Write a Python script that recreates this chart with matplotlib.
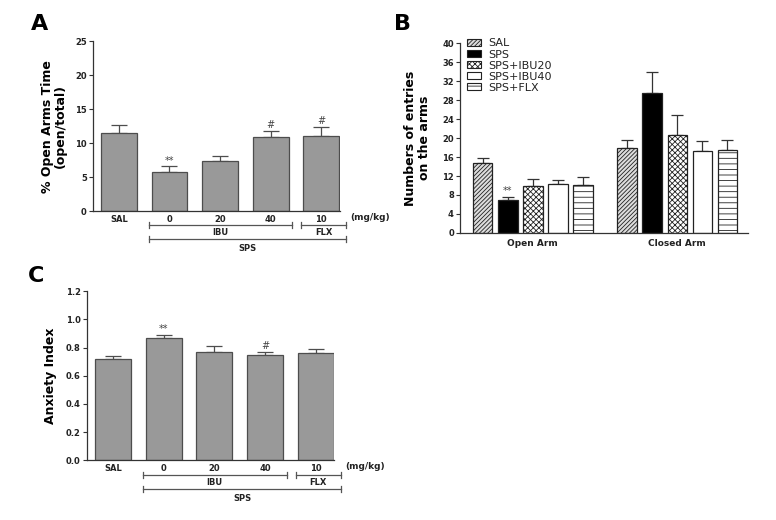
import matplotlib
matplotlib.use("Agg")
import matplotlib.pyplot as plt
import matplotlib.transforms as mtransforms
from matplotlib.patches import Patch
import numpy as np

# Panel A / C: groups
groups = ["SAL", "0", "20", "40", "10"]
open_time = [11.5, 5.8, 7.3, 10.9, 11.1]
open_time_err = [1.2, 0.8, 0.8, 0.9, 1.3]
open_time_marks = ["", "**", "", "#", "#"]

anxiety = [0.72, 0.87, 0.77, 0.75, 0.76]
anxiety_err = [0.02, 0.02, 0.04, 0.02, 0.03]
anxiety_marks = ["", "**", "", "#", ""]

# Panel B
arms = ["Open Arm", "Closed Arm"]
series = ["SAL", "SPS", "SPS+IBU20", "SPS+IBU40", "SPS+FLX"]
entries = {
    "SAL": [14.7, 18.0],
    "SPS": [7.0, 29.5],
    "SPS+IBU20": [9.8, 20.7],
    "SPS+IBU40": [10.3, 17.2],
    "SPS+FLX": [10.1, 17.5],
}
entries_err = {
    "SAL": [1.2, 1.5],
    "SPS": [0.6, 4.4],
    "SPS+IBU20": [1.6, 4.1],
    "SPS+IBU40": [0.9, 2.2],
    "SPS+FLX": [1.7, 2.0],
}
entries_marks = {"SPS": ["**", ""]}

DARK = "#333333"
BAR = "#999999"
plt.rcParams["font.family"] = "DejaVu Sans"
plt.rcParams["hatch.linewidth"] = 0.6

fig = plt.figure(figsize=(7.76, 5.2), dpi=100)


def style_axis(ax):
    for side in ("top", "right"):
        ax.spines[side].set_visible(False)
    for side in ("left", "bottom"):
        ax.spines[side].set_color(DARK)
        ax.spines[side].set_linewidth(0.9)
    ax.tick_params(axis="y", colors=DARK, labelsize=6, length=3, width=0.8, pad=1.5)
    ax.tick_params(axis="x", length=0, labelsize=6, pad=3)
    for lab in ax.get_yticklabels() + ax.get_xticklabels():
        lab.set_fontweight("bold")
        lab.set_color("#222222")


def dose_panel(ax, values, errs, marks, ylim, yticks, ylabel, ytext_off, rows):
    x = np.arange(len(values))
    ax.bar(x, values, width=0.71, color=BAR, edgecolor="#4d4d4d", linewidth=0.9, zorder=2)
    ax.errorbar(x, values, yerr=[np.zeros(len(errs)), errs], fmt="none",
                ecolor="#4d4d4d", elinewidth=0.9, capsize=6, capthick=0.9, zorder=1)
    for xi, v, e, m in zip(x, values, errs, marks):
        if m:
            ax.text(xi, v + e + ytext_off, m, ha="center", va="bottom", fontsize=7, color="#444444")
    ax.set_xlim(-0.51, 4.37)
    ax.set_ylim(*ylim)
    ax.set_yticks(yticks)
    ax.set_xticks(x)
    ax.set_xticklabels(groups)
    ax.set_ylabel(ylabel, fontsize=9, fontweight="bold", linespacing=1.0, labelpad=6)
    style_axis(ax)

    tr = mtransforms.blended_transform_factory(ax.transData, ax.transAxes)
    y_ibu, y_ibu_t, y_sps, y_sps_t, y_unit = rows
    kw = dict(transform=tr, clip_on=False, color="#555555", lw=0.9)
    for x0, x1, y in [(0.6, 3.43, y_ibu), (3.61, 4.5, y_ibu), (0.6, 4.5, y_sps)]:
        ax.plot([x0, x1], [y, y], **kw)
        for xe in (x0, x1):
            ax.plot([xe, xe], [y - 0.018, y + 0.018], **kw)
    tkw = dict(transform=tr, ha="center", va="center", fontsize=6, fontweight="bold", color="#222222")
    ax.text(2.0, y_ibu_t, "IBU", **tkw)
    ax.text(4.05, y_ibu_t, "FLX", **tkw)
    ax.text(2.55, y_sps_t, "SPS", **tkw)
    ax.text(4.58, y_unit, "(mg/kg)", transform=tr, ha="left", va="center",
            fontsize=6.5, fontweight="bold", color="#222222")


# Panel A
axA = fig.add_axes([0.120, 0.594, 0.318, 0.327])
dose_panel(axA, open_time, open_time_err, open_time_marks, (0, 25), [0, 5, 10, 15, 20, 25],
           "% Open Arms Time\n(open/total)", 0.1,
           (-0.082, -0.124, -0.165, -0.218, -0.04))

# Panel C
axC = fig.add_axes([0.112, 0.115, 0.319, 0.325])
dose_panel(axC, anxiety, anxiety_err, anxiety_marks, (0, 1.2), [0.0, 0.2, 0.4, 0.6, 0.8, 1.0, 1.2],
           "Anxiety Index", 0.004,
           (-0.089, -0.13, -0.172, -0.225, -0.04))
axC.set_yticklabels([f"{v:.1f}" for v in axC.get_yticks()], fontweight="bold")

# Panel B
axB = fig.add_axes([0.593, 0.552, 0.371, 0.365])
styles = {
    "SAL": dict(facecolor="#dddddd", hatch="////////"),
    "SPS": dict(facecolor="black", hatch=None),
    "SPS+IBU20": dict(facecolor="white", hatch="xxxxxx"),
    "SPS+IBU40": dict(facecolor="white", hatch=None),
    "SPS+FLX": dict(facecolor="white", hatch="---"),
}
gx = np.arange(len(arms))
step = 25 / 144
width = 19.5 / 144
handles = []
for i, name in enumerate(series):
    xs = gx + (i - 2) * step
    st = styles[name]
    axB.bar(xs, entries[name], width=width, facecolor=st["facecolor"], hatch=st["hatch"],
            edgecolor="#222222", linewidth=0.9, zorder=2)
    axB.errorbar(xs, entries[name], yerr=[np.zeros(2), entries_err[name]], fmt="none",
                 ecolor="#333333", elinewidth=0.9, capsize=4, capthick=0.9, zorder=1)
    for xi, v, e, m in zip(xs, entries[name], entries_err[name], entries_marks.get(name, ["", ""])):
        if m:
            axB.text(xi, v + e + 0.1, m, ha="center", va="bottom", fontsize=7, color="#444444")
    handles.append(Patch(facecolor=st["facecolor"], hatch=st["hatch"], edgecolor="#222222",
                         linewidth=0.8, label=name))
axB.set_xlim(-0.503, 1.49)
axB.set_ylim(0, 40)
axB.set_yticks(np.arange(0, 41, 4))
axB.set_xticks(gx)
axB.set_xticklabels(arms)
axB.set_ylabel("Numbers of entries\non the arms", fontsize=9, fontweight="bold",
               linespacing=1.1, labelpad=8)
style_axis(axB)
axB.tick_params(axis="x", labelsize=6.5, pad=4)
leg = axB.legend(handles=handles, loc="upper left", bbox_to_anchor=(0.0, 1.06), frameon=False,
                 fontsize=8, handlelength=1.3, handleheight=0.6, handletextpad=0.6,
                 labelspacing=0.1, borderaxespad=0.2)
for t in leg.get_texts():
    t.set_color("#222222")

# Panel letters
fig.text(0.040, 0.953, "A", fontsize=16, fontweight="bold", va="center")
fig.text(0.508, 0.953, "B", fontsize=16, fontweight="bold", va="center")
fig.text(0.036, 0.469, "C", fontsize=16, fontweight="bold", va="center")

fig.savefig("out.png", dpi=100, facecolor="white")
